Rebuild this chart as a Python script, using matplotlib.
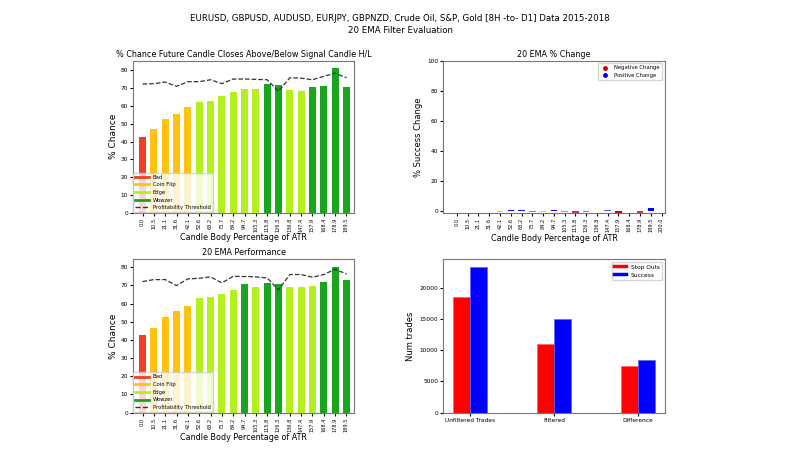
import numpy as np
import matplotlib
matplotlib.use("Agg")
import matplotlib.pyplot as plt
from matplotlib.lines import Line2D

# Candle body size bins (% of ATR)
bins = ["0.0", "10.5", "21.1", "31.6", "42.1", "52.6", "63.2", "73.7", "84.2", "94.7",
        "105.3", "115.8", "126.3", "136.8", "147.4", "157.9", "168.4", "178.9", "189.5"]
bins_change = bins + ["200.0"]

# % chance future candle closes above/below signal candle H/L (no filter)
chance_all = [42.4, 47.2, 52.8, 55.6, 59.3, 62.3, 62.9, 65.9, 67.9, 69.6,
              69.4, 72.4, 71.8, 68.8, 68.5, 70.9, 71.1, 81.4, 70.7]
threshold_all = [72.4, 72.6, 73.5, 71.1, 73.7, 73.7, 74.8, 72.6, 75.2, 75.2,
                 75.0, 74.8, 68.3, 75.9, 75.7, 74.8, 76.7, 78.5, 75.9]

# same with the 20 EMA filter
chance_ema = [42.9, 46.8, 52.7, 55.8, 58.7, 63.3, 63.7, 65.0, 67.5, 71.0,
              69.0, 71.4, 70.8, 69.2, 69.4, 69.5, 71.7, 80.4, 73.2]
threshold_ema = [72.1, 73.2, 73.2, 69.9, 73.6, 73.9, 74.7, 71.4, 75.0, 74.9,
                 74.7, 74.1, 67.5, 76.0, 76.0, 74.5, 76.0, 78.9, 76.3]

# % success change per bin
success_change = [0.5, 0.0, 0.0, 0.3, -0.3, 1.0, 0.9, -0.6, -0.3, 1.0,
                  -0.5, -0.8, -0.6, 0.3, 0.7, -1.0, 0.5, -0.8, 2.5, 0.0]

# trade counts
trade_groups = ["Unfiltered Trades", "Filtered", "Difference"]
stop_outs = [18450, 11040, 7410]
successes = [23360, 14990, 8370]

c_bad, c_coin, c_edge, c_wow = "#ee3f1f", "#ffc30f", "#b3f01e", "#1aa51e"


def bar_colours(vals):
    out = []
    for v in vals:
        if v >= 70:
            out.append(c_wow)
        elif v >= 60:
            out.append(c_edge)
        elif v >= 45:
            out.append(c_coin)
        else:
            out.append(c_bad)
    return out


def style_axis(ax):
    ax.tick_params(axis="y", labelsize=4.2, length=2, pad=1.5)
    ax.tick_params(axis="x", length=2, pad=1.5)
    for s in ax.spines.values():
        s.set_color("#777777")


def chance_plot(ax, vals, thresh, title):
    x = np.arange(len(bins))
    ax.bar(x, vals, width=0.6, color=bar_colours(vals))
    ax.plot(x, thresh, ls="--", color="#333333", lw=0.9)
    ax.set_xticks(x)
    ax.set_xticklabels(bins, rotation=90, fontsize=3.6)
    style_axis(ax)
    ax.set_xlim(-0.86, 18.7)
    ax.set_xlabel("Candle Body Percentage of ATR", fontsize=5.8, labelpad=1)
    ax.set_ylabel("% Chance", fontsize=6.5, labelpad=2)
    ax.set_title(title, fontsize=5.8, pad=3)
    handles = [Line2D([], [], color=c_bad, lw=2), Line2D([], [], color=c_coin, lw=2),
               Line2D([], [], color=c_edge, lw=2), Line2D([], [], color=c_wow, lw=2),
               Line2D([], [], color="#333333", ls="--", lw=1)]
    ax.legend(handles, ["Bad", "Coin Flip", "Edge", "Wowzer", "Profitability Threshold"],
              loc="lower left", fontsize=3.8, borderaxespad=0.1, handlelength=2.5)


fig = plt.figure(figsize=(8, 4.5), dpi=100)
fig.suptitle("EURUSD, GBPUSD, AUDUSD, EURJPY, GBPNZD, Crude Oil, S&P, Gold [8H -to- D1] Data 2015-2018\n"
             "20 EMA Filter Evaluation", fontsize=6.2, y=0.968, linespacing=1.3)

ax1 = fig.add_axes([0.166, 0.527, 0.277, 0.338])
chance_plot(ax1, chance_all, threshold_all,
            "% Chance Future Candle Closes Above/Below Signal Candle H/L")

ax3 = fig.add_axes([0.166, 0.083, 0.277, 0.341])
chance_plot(ax3, chance_ema, threshold_ema, "20 EMA Performance")

# % change plot
ax2 = fig.add_axes([0.554, 0.527, 0.277, 0.338])
xc = np.arange(len(bins_change))
for i, v in enumerate(success_change):
    if v == 0:
        continue
    col = "blue" if v > 0 else "#cc0000"
    ax2.bar(xc[i], v, width=0.6, color=col, alpha=float(np.clip(abs(v), 0.2, 1.0)))
ax2.set_xticks(xc)
ax2.set_xticklabels(bins_change, rotation=90, fontsize=3.6)
style_axis(ax2)
ax2.set_xlim(-1.27, 19.3)
ax2.set_ylim(-0.9, 100)
ax2.set_xlabel("Candle Body Percentage of ATR", fontsize=5.8, labelpad=1)
ax2.set_ylabel("% Success Change", fontsize=6, labelpad=3)
ax2.set_title("20 EMA % Change", fontsize=5.8, pad=3)
ax2.legend([Line2D([], [], color="#cc0000", marker="o", ls="", ms=2.5),
            Line2D([], [], color="blue", marker="o", ls="", ms=2.5)],
           ["Negative Change", "Positive Change"], loc="upper right", fontsize=3.8)

# trade counts
ax4 = fig.add_axes([0.554, 0.083, 0.277, 0.341])
xg = np.arange(len(trade_groups))
ax4.bar(xg - 0.1, stop_outs, width=0.2, color="red", edgecolor="#ff6060", lw=0.5)
ax4.bar(xg + 0.1, successes, width=0.2, color="blue", edgecolor="#6060ff", lw=0.5)
ax4.set_xticks(xg)
ax4.set_xticklabels(trade_groups, fontsize=4.2)
style_axis(ax4)
ax4.set_ylabel("Num trades", fontsize=6, labelpad=3)
ax4.legend([Line2D([], [], color="red", lw=2.5), Line2D([], [], color="blue", lw=2.5)],
           ["Stop Outs", "Success"], loc="upper right", fontsize=4.2)

fig.savefig("out.png", dpi=100)
